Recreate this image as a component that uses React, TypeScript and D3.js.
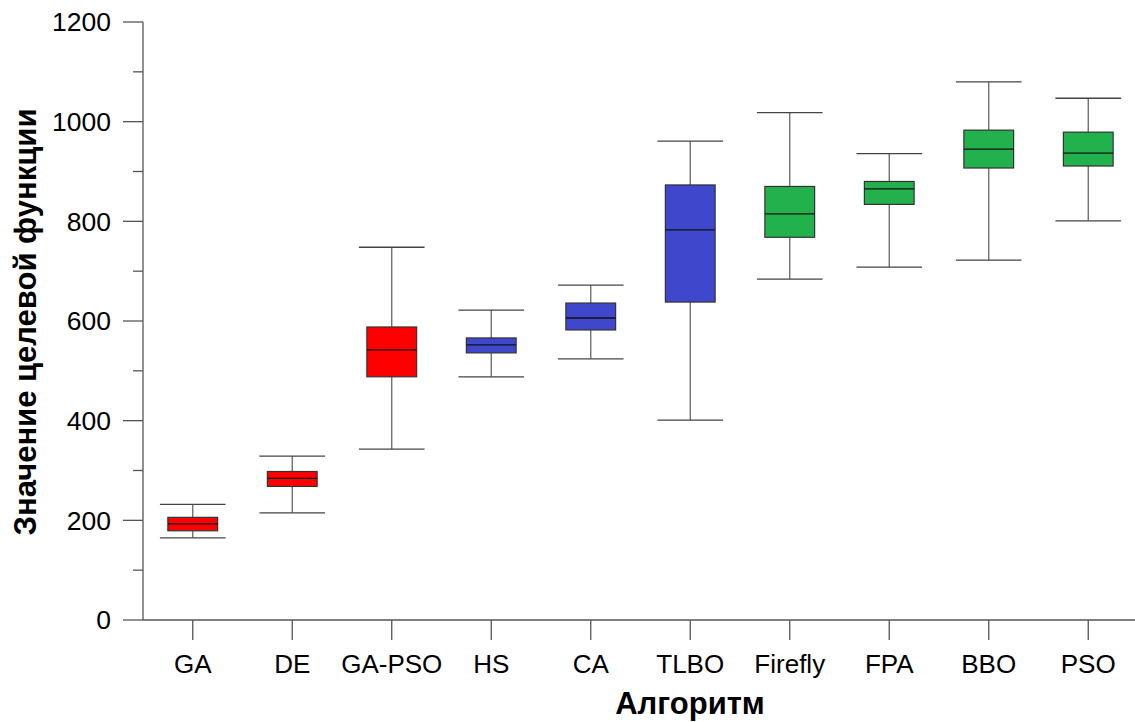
import React, { useEffect, useRef } from "react";
import * as d3 from "d3";

// algorithm names and box stats
const algorithms = ["GA", "DE", "GA-PSO", "HS", "CA", "TLBO", "Firefly", "FPA", "BBO", "PSO"];
const whiskerLow = [165, 215, 343, 488, 524, 401, 684, 708, 722, 801];
const q1 = [179, 268, 488, 536, 582, 638, 768, 834, 907, 911];
const medians = [193, 284, 542, 552, 606, 783, 815, 865, 945, 937];
const q3 = [206, 298, 588, 566, 636, 873, 870, 880, 983, 979];
const whiskerHigh = [232, 329, 748, 622, 672, 961, 1018, 936, 1080, 1047];
const groups = ["red", "red", "red", "blue", "blue", "blue", "green", "green", "green", "green"];
const yTicks = [0, 200, 400, 600, 800, 1000, 1200];
const yMinorTicks = [100, 300, 500, 700, 900, 1100];

const groupColor: Record<string, string> = {
  red: "#ff0000",
  blue: "#3f48cc",
  green: "#22b14c",
};

export default function App() {
  const ref = useRef<SVGSVGElement>(null);

  useEffect(() => {
    const width = 1135, height = 722;
    const left = 143, top = 22, bottom = 620, right = 1138;

    const svg = d3.select(ref.current);
    svg.selectAll("*").remove();
    svg.attr("width", width).attr("height", height);

    const x = d3.scaleBand<string>().domain(algorithms).range([left, right]).padding(0);
    const y = d3.scaleLinear().domain([0, 1200]).range([bottom, top]);
    const bw = x.bandwidth();
    const font = "'Liberation Sans', Arial, sans-serif";
    const axisColor = "#555";

    const data = algorithms.map((name, i) => ({
      name,
      lo: whiskerLow[i],
      q1: q1[i],
      med: medians[i],
      q3: q3[i],
      hi: whiskerHigh[i],
      color: groupColor[groups[i]],
    }));

    const g = svg.append("g");
    const box = g.selectAll("g.box").data(data).enter().append("g").attr("class", "box");
    const cx = (d: any) => (x(d.name) as number) + bw / 2;

    // whisker stems
    box.append("line")
      .attr("x1", cx).attr("x2", cx)
      .attr("y1", (d) => y(d.hi)).attr("y2", (d) => y(d.q3))
      .attr("stroke", "#666").attr("stroke-width", 1.3);
    box.append("line")
      .attr("x1", cx).attr("x2", cx)
      .attr("y1", (d) => y(d.q1)).attr("y2", (d) => y(d.lo))
      .attr("stroke", "#666").attr("stroke-width", 1.3);
    // caps
    const capW = bw * 0.66;
    [["hi"], ["lo"]].forEach(([k]) => {
      box.append("line")
        .attr("x1", (d) => cx(d) - capW / 2).attr("x2", (d) => cx(d) + capW / 2)
        .attr("y1", (d: any) => y(d[k])).attr("y2", (d: any) => y(d[k]))
        .attr("stroke", "#444").attr("stroke-width", 1.3);
    });
    // boxes
    const boxW = bw * 0.5;
    box.append("rect")
      .attr("x", (d) => cx(d) - boxW / 2)
      .attr("width", boxW)
      .attr("y", (d) => y(d.q3))
      .attr("height", (d) => y(d.q1) - y(d.q3))
      .attr("fill", (d) => d.color)
      .attr("stroke", "#333").attr("stroke-width", 1.2);
    box.append("line")
      .attr("x1", (d) => cx(d) - boxW / 2).attr("x2", (d) => cx(d) + boxW / 2)
      .attr("y1", (d) => y(d.med)).attr("y2", (d) => y(d.med))
      .attr("stroke", "#111").attr("stroke-width", 1.3);

    // y axis
    g.append("line").attr("x1", left).attr("x2", left).attr("y1", top).attr("y2", bottom)
      .attr("stroke", axisColor).attr("stroke-width", 1.3);
    g.selectAll("line.ymaj").data(yTicks).enter().append("line")
      .attr("x1", left - 20).attr("x2", left)
      .attr("y1", (d) => y(d)).attr("y2", (d) => y(d))
      .attr("stroke", axisColor).attr("stroke-width", 1.3);
    g.selectAll("line.ymin").data(yMinorTicks).enter().append("line")
      .attr("x1", left - 10).attr("x2", left)
      .attr("y1", (d) => y(d)).attr("y2", (d) => y(d))
      .attr("stroke", axisColor).attr("stroke-width", 1.3);
    g.selectAll("text.ylab").data(yTicks).enter().append("text")
      .attr("x", left - 32).attr("y", (d) => y(d))
      .attr("dy", "0.35em")
      .attr("text-anchor", "end")
      .attr("font-family", font).attr("font-size", 26.5).attr("fill", "#000")
      .text((d) => d);

    // x axis
    g.append("line").attr("x1", left).attr("x2", width).attr("y1", bottom).attr("y2", bottom)
      .attr("stroke", axisColor).attr("stroke-width", 1.3);
    g.selectAll("line.xt").data(algorithms).enter().append("line")
      .attr("x1", (d) => (x(d) as number) + bw / 2).attr("x2", (d) => (x(d) as number) + bw / 2)
      .attr("y1", bottom).attr("y2", bottom + 20)
      .attr("stroke", axisColor).attr("stroke-width", 1.3);
    g.selectAll("text.xlab").data(algorithms).enter().append("text")
      .attr("x", (d) => (x(d) as number) + bw / 2).attr("y", 673)
      .attr("text-anchor", "middle")
      .attr("font-family", font).attr("font-size", 26).attr("fill", "#000")
      .text((d) => d);

    // titles
    svg.append("text")
      .attr("x", 690).attr("y", 714)
      .attr("text-anchor", "middle")
      .attr("font-family", font).attr("font-size", 31).attr("font-weight", "bold")
      .text("Алгоритм");
    svg.append("text")
      .attr("transform", "translate(36,322) rotate(-90)")
      .attr("text-anchor", "middle")
      .attr("font-family", font).attr("font-size", 31).attr("font-weight", "bold")
      .text("Значение целевой функции");
  }, []);

  return (
    <div style={{ position: "absolute", left: 0, top: 0 }}>
      <svg ref={ref} style={{ display: "block", background: "#fff" }}></svg>
    </div>
  );
}
